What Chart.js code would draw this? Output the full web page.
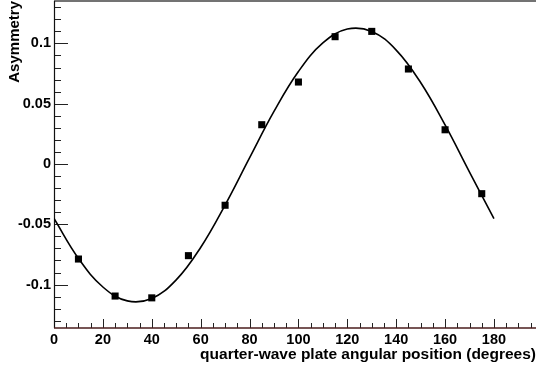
<!DOCTYPE html>
<html>
<head>
<meta charset="utf-8">
<script src="https://cdn.jsdelivr.net/npm/chart.js@4"></script>
<style>
  html, body { margin: 0; padding: 0; background: #fff; }
  #wrap { width: 536px; height: 367px; }
</style>
</head>
<body>
<div id="wrap"><canvas id="chart" width="536" height="367"></canvas></div>
<script>
// measured points
const angles = [10, 25, 40, 55, 70, 85, 100, 115, 130, 145, 160, 175];
const asymmetry = [-0.0788, -0.1095, -0.111, -0.076, -0.0342, 0.0326, 0.068, 0.1056, 0.110, 0.0788, 0.0284, -0.0246];

// fitted curve
const fitAngles = [0, 10, 20, 30, 40, 50, 60, 70, 80, 90, 100, 110, 120, 130, 140, 150, 160, 170, 180];
const fitValues = [-0.0452, -0.0783, -0.1020, -0.1135, -0.1115, -0.0961, -0.0692, -0.0340, 0.0051, 0.0436, 0.0767, 0.1004, 0.1119, 0.1099, 0.0945, 0.0676, 0.0324, -0.0067, -0.0452];

const xTicks = [0, 20, 40, 60, 80, 100, 120, 140, 160, 180];
const yTicks = [-0.1, -0.05, 0, 0.05, 0.1];

const FONT = "'Liberation Sans', Arial, Helvetica, sans-serif";

// ROOT-like inward ticks and frame
const axisTicks = {
  id: 'axisTicks',
  beforeDatasetsDraw(chart) {
    const { ctx, chartArea: a, scales: { x, y } } = chart;
    ctx.save();
    ctx.lineWidth = 1;
    ctx.strokeStyle = '#222';
    ctx.beginPath();
    for (let i = -13; i <= 13; i++) {
      const py = Math.round(y.getPixelForValue(i / 100)) + 0.5;
      const len = i % 5 === 0 ? 14 : 7;
      ctx.moveTo(a.left, py);
      ctx.lineTo(a.left + len, py);
    }
    for (let d = 0; d <= 195; d += 5) {
      const px = Math.round(x.getPixelForValue(d)) + 0.5;
      const len = d % 20 === 0 ? 9 : 5;
      ctx.moveTo(px, a.bottom);
      ctx.lineTo(px, a.bottom - len);
    }
    ctx.stroke();

    // top frame
    ctx.strokeStyle = '#444';
    ctx.lineWidth = 1.5;
    ctx.beginPath();
    ctx.moveTo(a.left, a.top);
    ctx.lineTo(a.right, a.top);
    ctx.stroke();

    // left axis
    ctx.strokeStyle = '#111';
    ctx.lineWidth = 1.2;
    ctx.beginPath();
    ctx.moveTo(a.left + 0.5, a.top);
    ctx.lineTo(a.left + 0.5, a.bottom);
    ctx.stroke();

    // bottom axis
    ctx.strokeStyle = '#4a1c1c';
    ctx.lineWidth = 1.5;
    ctx.beginPath();
    ctx.moveTo(a.left, a.bottom);
    ctx.lineTo(a.right, a.bottom);
    ctx.stroke();
    ctx.restore();
  }
};

new Chart(document.getElementById('chart'), {
  type: 'scatter',
  data: {
    datasets: [
      {
        label: 'data',
        data: angles.map((a, i) => ({ x: a, y: asymmetry[i] })),
        pointStyle: 'rect',
        pointRadius: 5,
        pointBorderWidth: 0,
        backgroundColor: '#000',
        borderColor: '#000',
        showLine: false
      },
      {
        label: 'fit',
        type: 'line',
        data: fitAngles.map((a, i) => ({ x: a, y: fitValues[i] })),
        borderColor: '#000',
        borderWidth: 1.6,
        pointRadius: 0,
        tension: 0.4,
        fill: false
      }
    ]
  },
  options: {
    responsive: false,
    animation: false,
    devicePixelRatio: 1,
    layout: { autoPadding: false, padding: { left: 0, right: 0, top: 1, bottom: 0 } },
    plugins: { legend: { display: false }, tooltip: { enabled: false } },
    scales: {
      x: {
        type: 'linear',
        min: 0,
        max: 197.2,
        grid: { display: false, drawTicks: false },
        border: { display: false },
        afterBuildTicks: s => { s.ticks = xTicks.map(v => ({ value: v })); },
        afterFit: s => { s.height = 39; s.paddingLeft = 0; s.paddingRight = 0; },
        ticks: {
          color: '#000',
          padding: 3,
          maxRotation: 0,
          font: { family: FONT, size: 14.5, weight: 'bold' },
          callback: v => String(v)
        },
        title: {
          display: true,
          align: 'end',
          text: 'quarter-wave plate angular position (degrees)',
          color: '#000',
          padding: { top: 0, bottom: 3 },
          font: { family: FONT, size: 15.5, weight: 'bold' }
        }
      },
      y: {
        type: 'linear',
        min: -0.136,
        max: 0.1352,
        grid: { display: false, drawTicks: false },
        border: { display: false },
        afterBuildTicks: s => { s.ticks = yTicks.map(v => ({ value: v })); },
        afterFit: s => { s.width = 54; s.paddingTop = 0; s.paddingBottom = 0; },
        ticks: {
          color: '#000',
          padding: 3,
          font: { family: FONT, size: 14.5, weight: 'bold' },
          callback: v => String(v)
        },
        title: {
          display: true,
          align: 'end',
          text: 'Asymmetry',
          color: '#000',
          padding: { top: 6, bottom: 0 },
          font: { family: FONT, size: 15, weight: 'bold' }
        }
      }
    }
  },
  plugins: [axisTicks]
});
</script>
</body>
</html>
